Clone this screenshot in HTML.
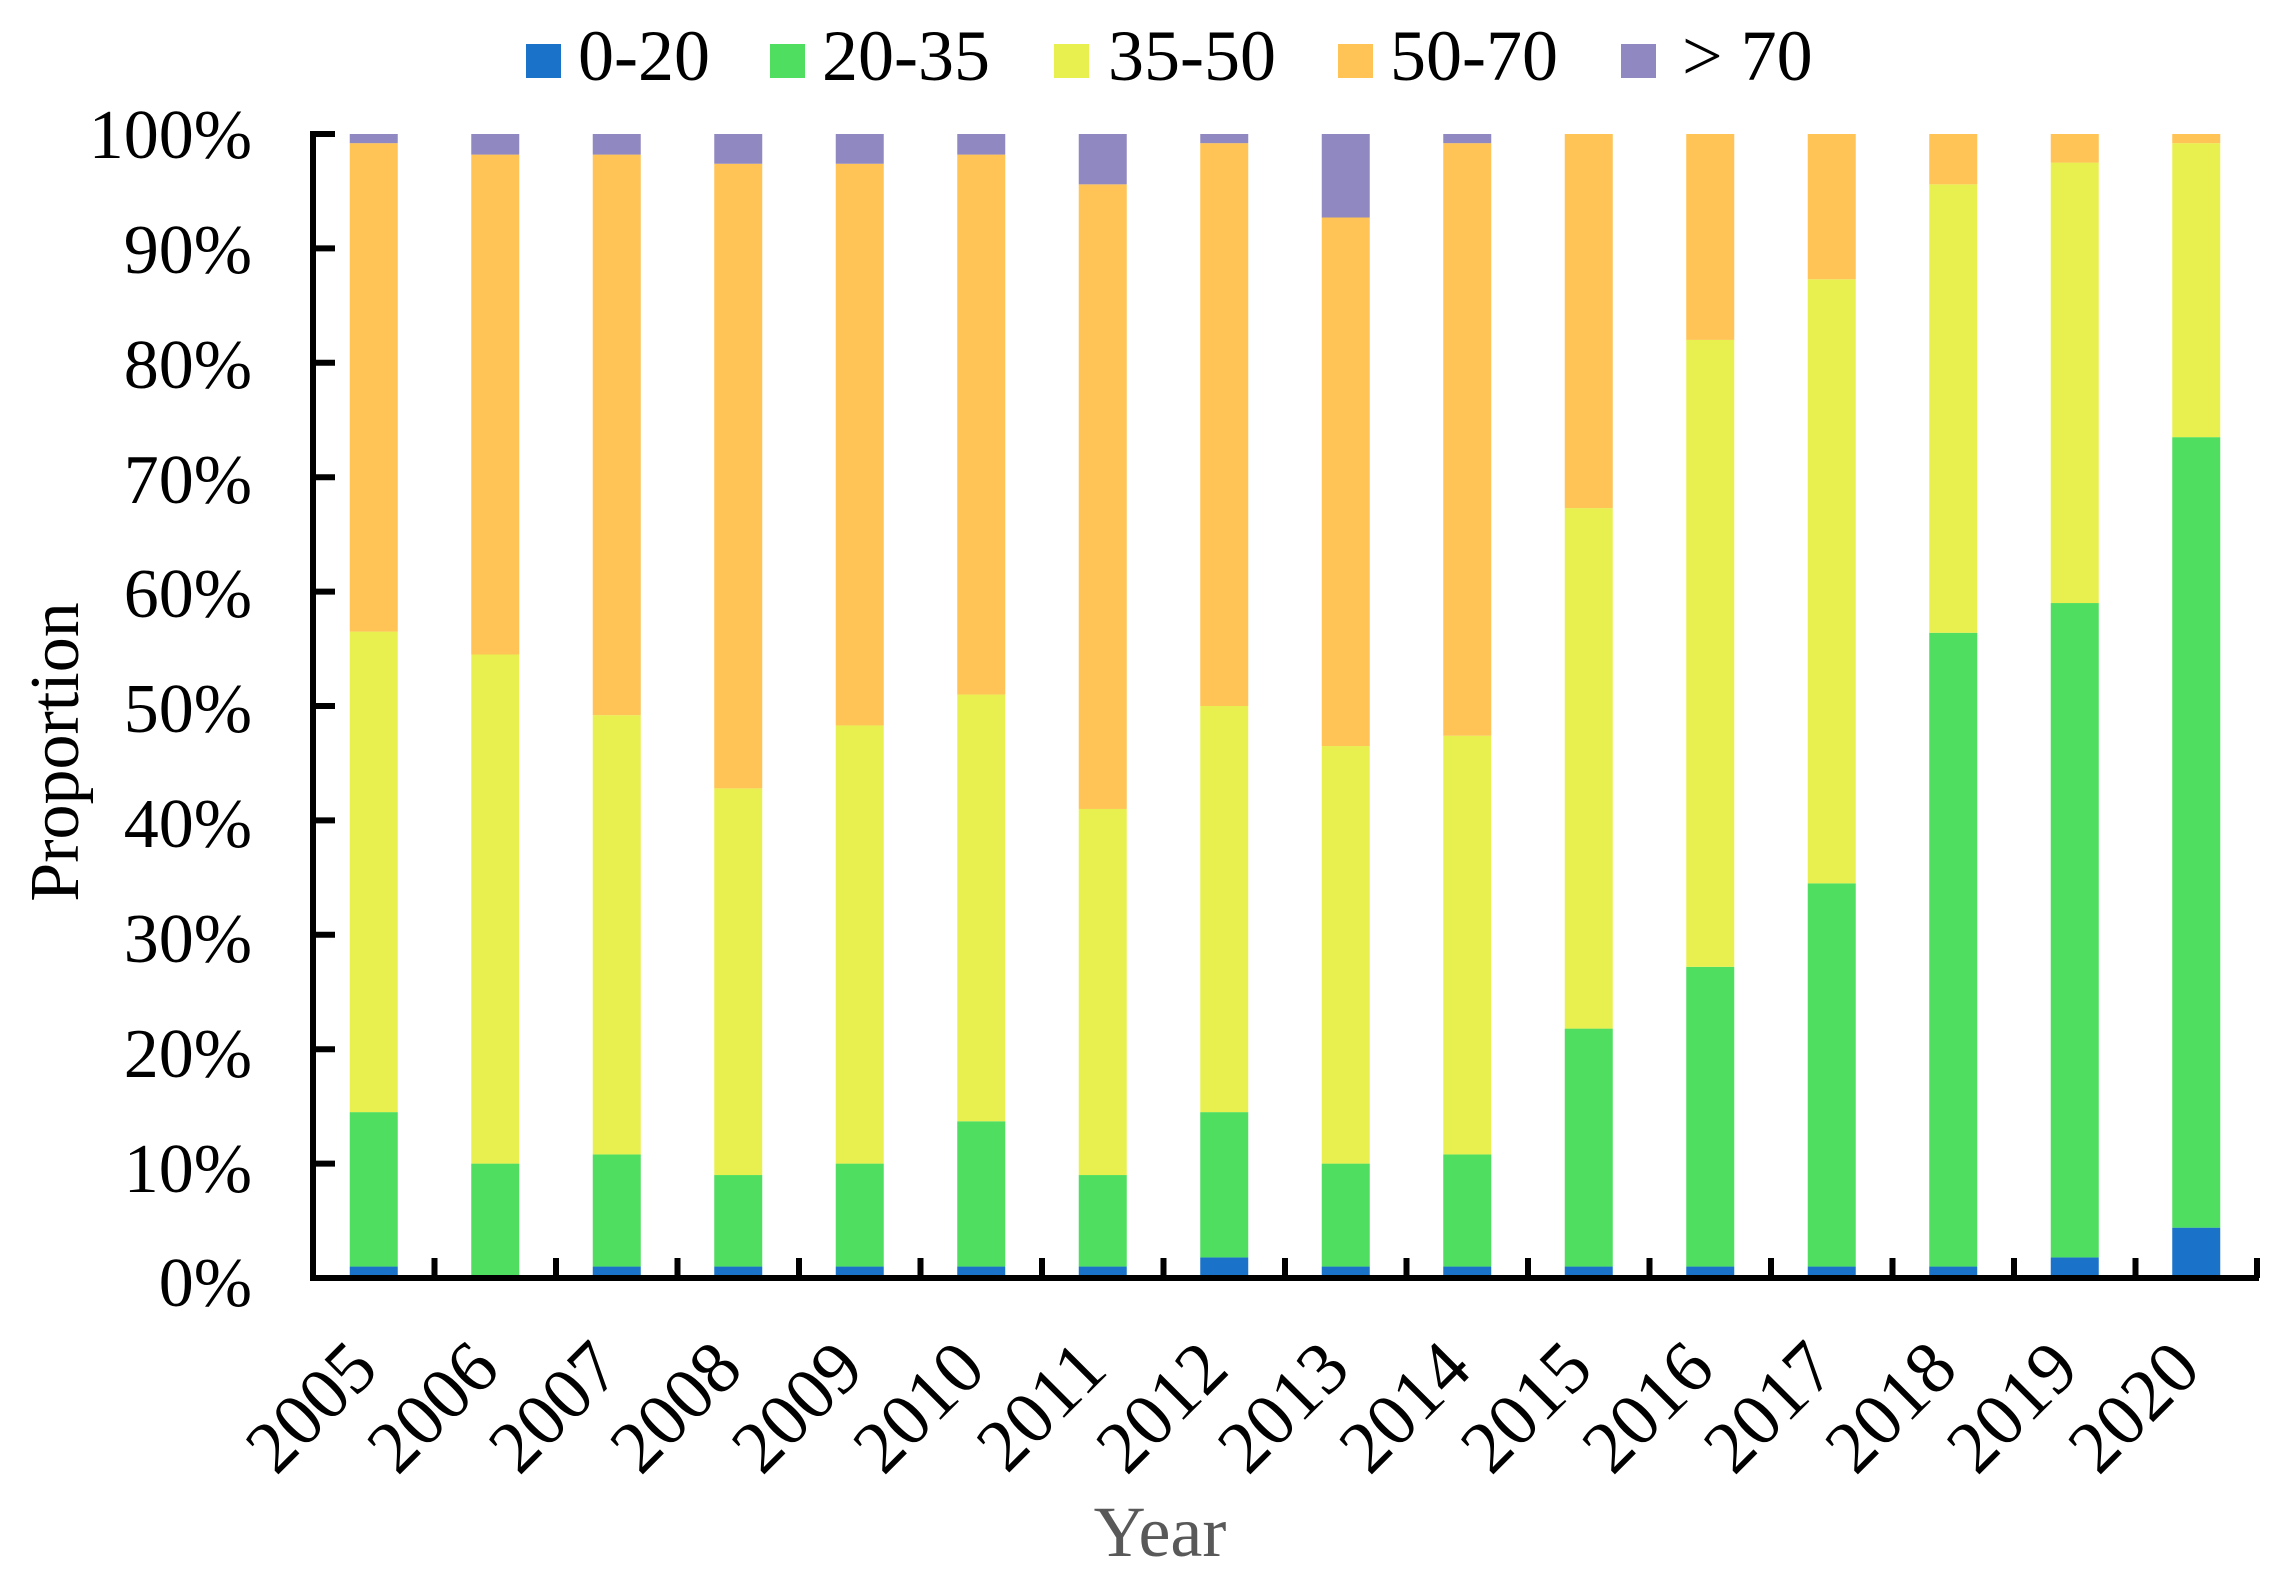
<!DOCTYPE html>
<html><head><meta charset="utf-8"><style>
html,body{margin:0;padding:0;background:#fff;}
svg{display:block;}
svg text{font-family:"Liberation Serif",serif;}
</style></head><body>
<svg width="2278" height="1585" viewBox="0 0 2278 1585" xmlns="http://www.w3.org/2000/svg" font-family="Liberation Serif, serif">
<g id="bars"></g>
<g font-size="70" text-anchor="end" fill="#000" font-family="Liberation Serif, serif">
<text x="252" y="158">100%</text>
<text x="252" y="273">90%</text>
<text x="252" y="388">80%</text>
<text x="252" y="503">70%</text>
<text x="252" y="617">60%</text>
<text x="252" y="732">50%</text>
<text x="252" y="847">40%</text>
<text x="252" y="962">30%</text>
<text x="252" y="1077">20%</text>
<text x="252" y="1192">10%</text>
<text x="252" y="1306">0%</text>
</g>
<text transform="translate(78,752) rotate(-90)" font-size="70" text-anchor="middle" font-family="Liberation Serif, serif">Proportion</text>
<text x="1160" y="1556" font-size="72" text-anchor="middle" fill="#595959" font-family="Liberation Serif, serif">Year</text>
<g font-size="72" font-family="Liberation Serif, serif">
<rect x="526" y="44" width="35" height="34" fill="#1a73c9"/><text x="578" y="80">0-20</text>
<rect x="770" y="44" width="35" height="34" fill="#4fde5f"/><text x="822" y="80">20-35</text>
<rect x="1054" y="44" width="35" height="34" fill="#e8f050"/><text x="1108" y="80">35-50</text>
<rect x="1338" y="44" width="35" height="34" fill="#ffc455"/><text x="1390" y="80">50-70</text>
<rect x="1621" y="44" width="35" height="34" fill="#9088c0"/><text x="1682" y="80">&gt; 70</text>
</g>
<g id="xl" font-size="74" text-anchor="end" font-family="Liberation Serif, serif"></g>
<g id="axes" stroke="#000" stroke-width="6" fill="none"></g>
</svg>
<script>
const data=[[1,14.5,56.5,99.2],[0,10,54.5,98.2],[1,10.8,49.2,98.2],[1,9,42.8,97.4],[1,10,48.3,97.4],[1,13.7,51,98.2],[1,9,41,95.6],[1.8,14.5,50,99.2],[1,10,46.5,92.7],[1,10.8,47.4,99.2],[1,21.8,67.3,100],[1,27.2,82,100],[1,34.5,87.3,100],[1,56.4,95.6,100],[1.8,59,97.5,100],[4.4,73.5,99.2,100]];
const cols=["#1a73c9","#4fde5f","#e8f050","#ffc455","#9088c0"];
const y0=1278,y100=134,x0=313,pitch=121.5,bw=48;
const Y=v=>y0-(y0-y100)*v/100;
let s="",xl="";
data.forEach((d,i)=>{
 const c=x0+pitch*(i+0.5);
 const v=[0,...d,100];
 for(let k=0;k<5;k++){
  if(v[k+1]>v[k]) s+=`<rect x="${c-bw/2}" y="${Y(v[k+1])}" width="${bw}" height="${Y(v[k])-Y(v[k+1])}" fill="${cols[k]}"/>`;
 }
 xl+=`<text transform="translate(${c+7},1372) rotate(-45)">${2005+i}</text>`;
});
document.getElementById("bars").innerHTML=s;
document.getElementById("xl").innerHTML=xl;
let a=`<path d="M${x0+22},${y100} H${x0} V${y0} H2259"/>`;
for(let t=0;t<=10;t++) a+=`<path d="M${x0},${Y(t*10)} h22"/>`;
for(let i=1;i<=16;i++) a+=`<path d="M${x0+pitch*i},${y0} v-20"/>`;
document.getElementById("axes").innerHTML=a;
</script>
</body></html>
